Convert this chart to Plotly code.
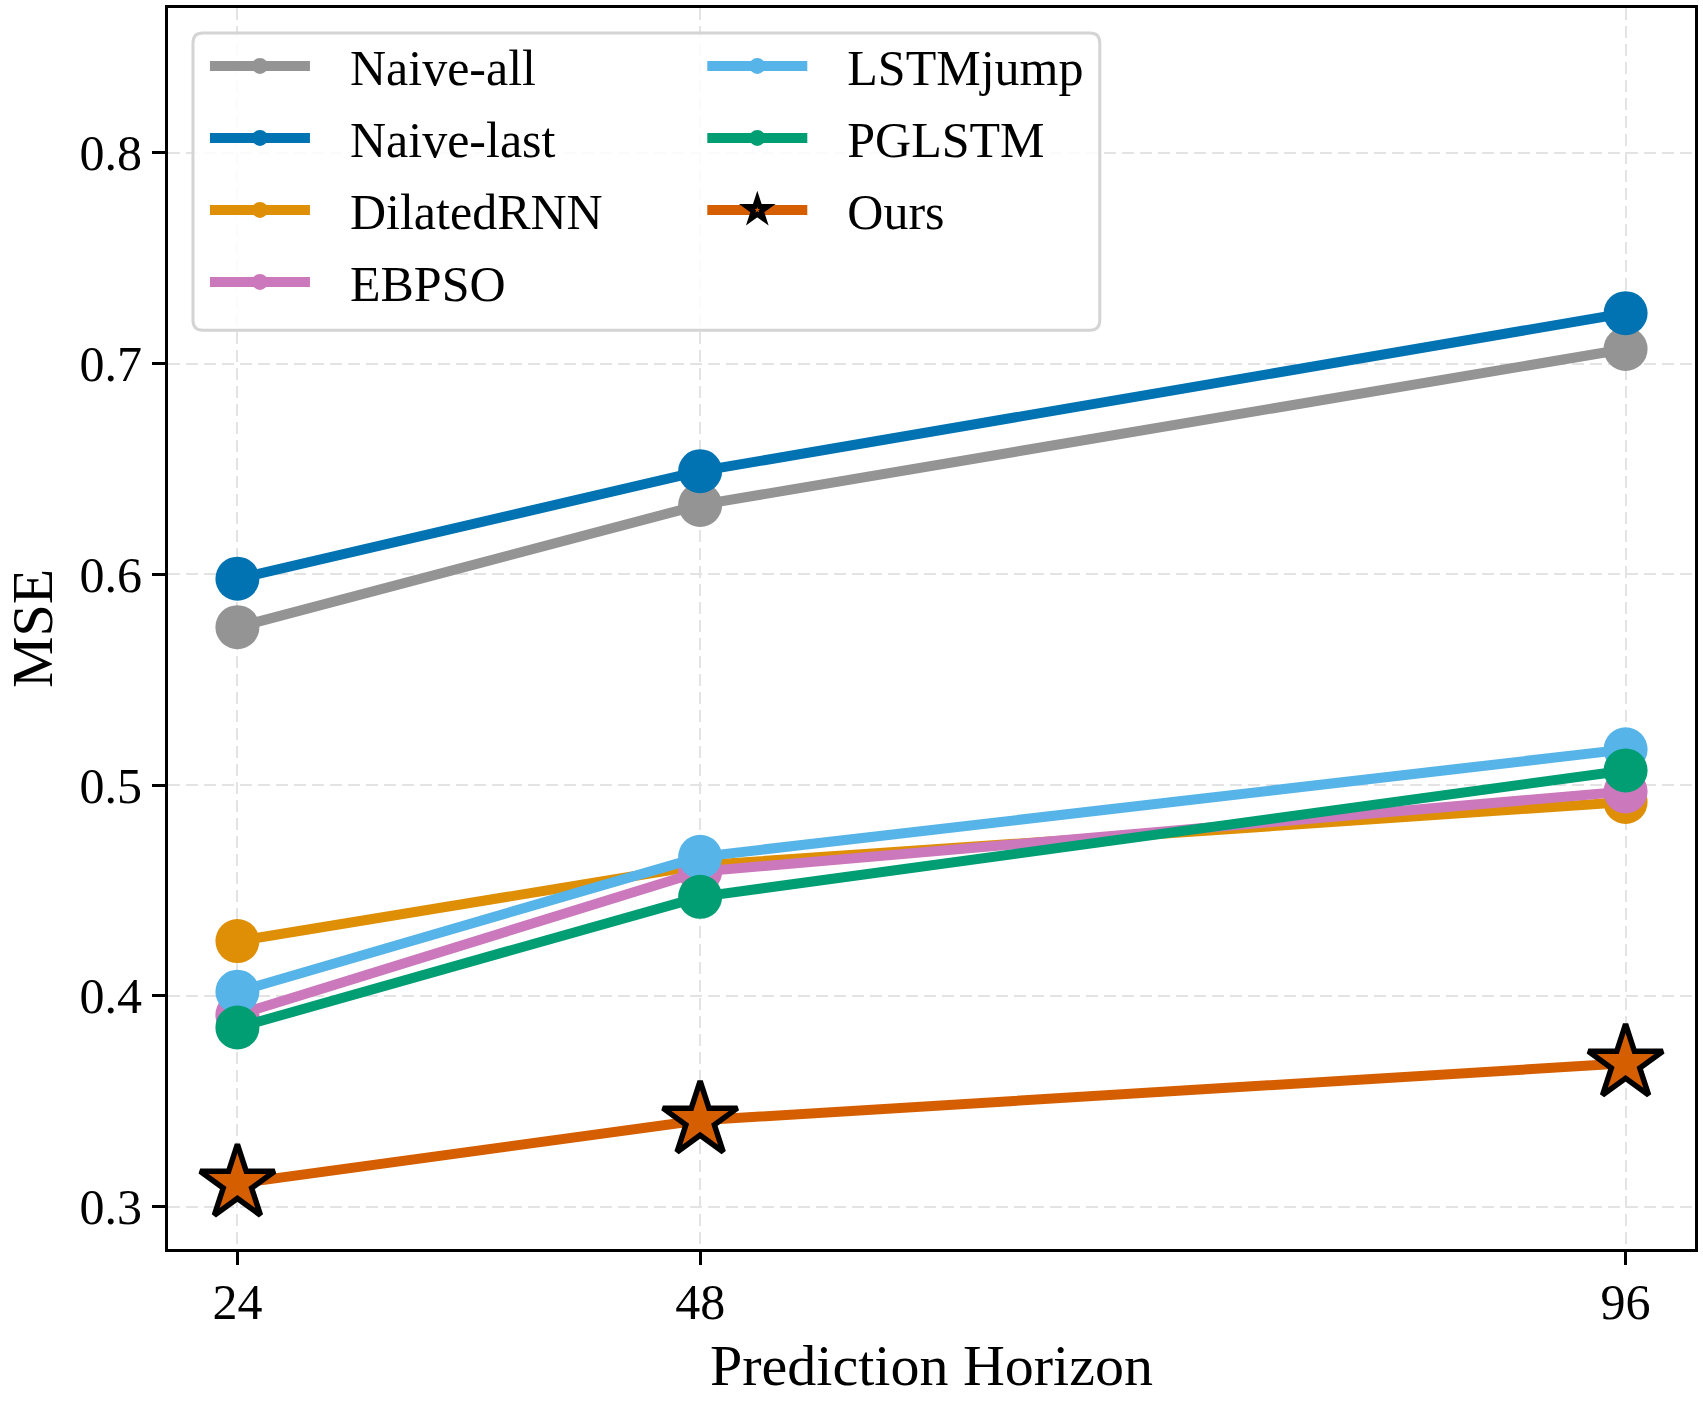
import plotly.graph_objects as go

# ---- data ----
horizons = [24, 48, 96]
x_tick_text = ["24", "48", "96"]
y_tick_vals = [0.3, 0.4, 0.5, 0.6, 0.7, 0.8]
y_tick_text = ["0.3", "0.4", "0.5", "0.6", "0.7", "0.8"]

naive_all = [0.575, 0.633, 0.707]
naive_last = [0.598, 0.649, 0.724]
dilated_rnn = [0.426, 0.462, 0.492]
ebpso = [0.391, 0.459, 0.497]
lstmjump = [0.402, 0.466, 0.517]
pglstm = [0.385, 0.447, 0.507]
ours = [0.311, 0.341, 0.368]

series_names = ["Naive-all", "Naive-last", "DilatedRNN", "EBPSO", "LSTMjump", "PGLSTM", "Ours"]
series_values = [naive_all, naive_last, dilated_rnn, ebpso, lstmjump, pglstm, ours]
series_colors = ["#949494", "#0173B2", "#DE8F05", "#CC78BC", "#56B4E9", "#029E73", "#D55E00"]

FONT = "Liberation Serif, Times New Roman, serif"
PAD = "\u00a0\u00a0\u2009"

W, H = 1703, 1401
ML, MR, MT, MB = 168, 6, 5, 152
PW, PH = W - ML - MR, H - MT - MB

fig = go.Figure()
all_vals = [v for s in series_values for v in s]
ymin, ymax = min(all_vals) * 0.9, max(all_vals) * 1.2

for i, (name, vals, col) in enumerate(zip(series_names, series_values, series_colors)):
    is_ours = name == "Ours"
    fig.add_trace(go.Scatter(
        x=horizons, y=vals, name=PAD + name, mode="lines+markers",
        line=dict(color=col, width=10),
        marker=dict(
            symbol="star" if is_ours else "circle",
            size=56 if is_ours else 44,
            color=col,
            line=dict(color="black" if is_ours else col, width=5.5 if is_ours else 0),
        ),
        legend="legend" if i < 4 else "legend2",
        legendgroup=name,
    ))

def px_x(p):
    return (p - ML) / PW

def px_y(p):
    return (H - MB - p) / PH

# legend frame (rounded rectangle) in paper coordinates
bx0, by0, bx1, by1 = px_x(193), px_y(30), px_x(1101), px_y(328)
rx, ry = 10 / PW, 10 / PH
path = (f"M{bx0+rx},{by0} L{bx1-rx},{by0} Q{bx1},{by0} {bx1},{by0-ry} "
        f"L{bx1},{by1+ry} Q{bx1},{by1} {bx1-rx},{by1} L{bx0+rx},{by1} "
        f"Q{bx0},{by1} {bx0},{by1+ry} L{bx0},{by0-ry} Q{bx0},{by0} {bx0+rx},{by0} Z")
fig.add_shape(type="path", path=path, xref="paper", yref="paper",
              line=dict(color="#d4d4d4", width=3), fillcolor="rgba(255,255,255,0.85)",
              layer="above")

legend_common = dict(
    font=dict(family=FONT, size=50, color="black"),
    bgcolor="rgba(0,0,0,0)", borderwidth=0,
    orientation="v", xanchor="left", yanchor="top",
    itemwidth=100, itemsizing="trace", traceorder="grouped",
    tracegroupgap=4,
)

fig.update_layout(
    width=W, height=H,
    margin=dict(l=ML, r=MR, t=MT, b=MB),
    paper_bgcolor="white", plot_bgcolor="white",
    font=dict(family=FONT, size=50, color="black"),
    showlegend=True,
    legend=dict(x=px_x(205), y=px_y(24), **legend_common),
    legend2=dict(x=px_x(703), y=px_y(24), **legend_common),
)

fig.update_xaxes(
    range=[20.4, 99.6], tickvals=horizons, ticktext=x_tick_text,
    showline=True, linecolor="black", linewidth=3, mirror=True,
    ticks="outside", ticklen=13, tickwidth=3, tickcolor="black",
    showgrid=True, gridcolor="#e3e3e3", gridwidth=2, griddash="12px,6px",
    zeroline=False, ticklabelstandoff=-6,
    tickfont=dict(family=FONT, size=50, color="black"),
    title=dict(text="Prediction Horizon", font=dict(family=FONT, size=58, color="black"), standoff=16),
)
fig.update_yaxes(
    range=[ymin, ymax], tickvals=y_tick_vals, ticktext=y_tick_text,
    showline=True, linecolor="black", linewidth=3, mirror=True,
    ticks="outside", ticklen=13, tickwidth=3, tickcolor="black",
    showgrid=True, gridcolor="#e3e3e3", gridwidth=2, griddash="12px,6px",
    zeroline=False,
    tickfont=dict(family=FONT, size=50, color="black"),
    title=dict(text="MSE", font=dict(family=FONT, size=58, color="black"), standoff=31),
)

fig.write_html("out.html", config={"displayModeBar": False},
               post_script="document.body.style.margin='0';document.body.style.overflow='hidden';")
